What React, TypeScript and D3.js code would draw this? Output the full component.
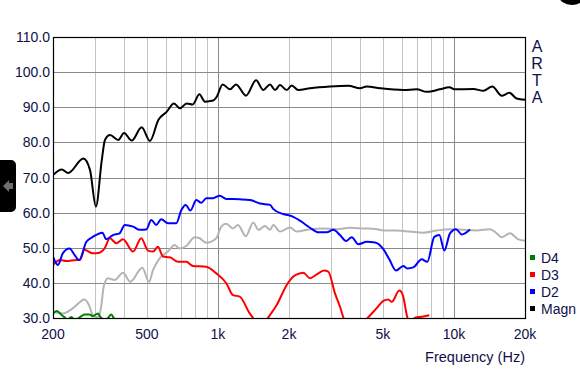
import React from "react";
import * as d3 from "d3";

const magnF = [200,218,232,269,287,304,322,332,349,378,400,431,475,515,559,606,651,690,737,782,834,881,955,988,1047,1125,1193,1315,1450,1557,1662,1745,1832,1956,2053,2190,2455,2984,3568,3998,4268,4860,6100,6952,7664,8726,9554,10100,12080,13320,14530,15940,17160,18440,20000];
const magnV = [70.7,72.3,71.3,75.4,72.1,61.7,75,80.7,82.1,80.7,82.7,80.5,84.3,80.4,86.4,88.7,91.1,89.7,91.1,90.8,93.7,91.6,91.9,93,96.5,95.1,96.5,93.3,97.7,94.9,96.5,94.9,96.3,94.9,96.2,94.9,95.4,95.9,96.1,95.4,95.9,95.4,94.9,95.1,94.4,95.1,95.7,95.1,95.2,94.7,95.9,93.3,94.1,92.5,92.1];

const d2F = [200,210,220,235,247,258,277,295,324,336,359,383,403,437,466,497,522,548,575,614,666,699,730,764,810,850,892,953,1017,1085,1236,1367,1507,1662,1717,1892,2053,2227,2455,2663,2888,3082,3290,3488,3688,3934,4268,4628,5019,5322,5682,6100,6344,6727,7300,7710,8256,8669,9103,9621,10200,10790,11700];
const d2V = [47.5,45.1,48.4,49.8,47.9,46.5,51.7,53.1,54.3,52.4,53.6,54.1,56.5,56.0,55.1,55.2,57.9,56.5,58.1,57.0,57.0,60.7,62.2,60.6,63.6,62.8,64.1,64.1,64.8,63.9,63.8,63.6,62.6,62.2,61,59.6,59,57.7,55.7,54.4,54.4,55.1,53.6,51.9,53,51,51.7,51.5,49.6,46.7,43.5,44.8,44.1,44.4,46.7,46,53.1,53.6,49.2,54.1,55.3,53.8,55.2];

const greyF = [200,220,243,272,284,295,310,320,328,342,365,396,425,478,510,531,566,614,656,684,734,797,837,892,984,1033,1085,1158,1216,1311,1412,1483,1582,1662,1717,1832,2019,2156,2455,2795,3186,3627,4128,4705,5019,5720,6512,7416,8450,9621,10950,12480,14210,15180,15940,17280,18730,20000];
const greyV = [31.8,31.3,32.8,35.3,33.7,30.9,30.2,33.2,38.9,41.3,40.8,42.9,40.3,44.3,40.3,43.7,47,48.9,50.8,49.8,50.5,53,52.7,51.4,52.7,56,56.8,55.5,56.5,53.3,57.2,55.1,56.2,55.1,56.5,54.6,55.8,54.6,55.3,55.5,55.3,55.7,55.5,55.3,54.9,54.9,54.6,54.3,54.9,55.3,55.1,54.9,55.3,54.1,53,54.1,52.4,52];

const d3F = [200,214,228,251,260,272,295,315,331,348,371,396,437,473,505,531,557,585,625,677,734,784,892,984,1085,1158,1236,1363,1408,1500,1634,1774,1956,2086,2227,2300,2455,2621,2814,2934,3132,3290,3398,3800,4336,4705,5019,5270,5449,5868,6066,6344,6550,6840,7416,7862];
const d3V = [45.1,46.5,46.2,46.5,46.5,49.4,48.4,48.6,49.8,52.7,51.3,52.4,48.9,52.7,49.2,48.9,50.3,47.5,47.3,46.0,46,44.8,44.6,42.7,39.9,36.5,36.1,31.3,30,27,30.2,33.7,39.4,41.8,42.7,42.9,41.3,42.4,43.5,43.2,37,33.2,30.2,26,30.2,32.8,34.9,35.3,34.6,37.8,36.6,30.2,28.5,30.1,30.4,30.8];

const d4F = [200,208,217,224,230,239,247,264,272,286,295,310,317,330,342,353,362,370];
const d4V = [31.3,32,30.9,30.2,29.5,30.3,29.5,30.5,31,31,30.5,31.3,30.4,29.5,30,31,30,29];

const yTicks = [30,40,50,60,70,80,90,100,110];
const xTickVals = [200,500,1000,2000,5000,10000,20000];
const xTickLabels = ["200","500","1k","2k","5k","10k","20k"];
const legendNames = ["D4","D3","D2","Magn"];
const legendColors = ["#008000","#ff0000","#0000ff","#000000"];

export default function App() {
  const L = 53, R = 525, T = 37, B = 318;
  const x = d3.scaleLog().domain([200, 20000]).range([L, R]);
  const y = d3.scaleLinear().domain([30, 110]).range([B, T]);
  const line = (F: number[], V: number[]) =>
    d3.line<number>().x((_, i) => x(F[i])).y((v) => y(v)).curve(d3.curveMonotoneX)(V) || "";

  const minor: number[] = [];
  for (let dec = 100; dec <= 10000; dec *= 10) {
    for (let k = 1; k <= 9; k++) {
      const f = dec * k;
      if (f > 200 && f < 20000 && f !== 1000 && f !== 10000) minor.push(f);
    }
  }
  const txt = "#10104a";
  const font = "'Liberation Sans', Arial, sans-serif";

  return (
    <svg width={580} height={375} style={{ position: "absolute", left: 0, top: 0, background: "#fff" }} fontFamily={font}>
      <rect x={0} y={0} width={580} height={375} fill="#fff" />
      <defs>
        <clipPath id="plot">
          <rect x={L} y={T} width={R - L} height={B - T} />
        </clipPath>
      </defs>
      {minor.map((f) => (
        <line key={f} x1={Math.round(x(f)) + 0.5} x2={Math.round(x(f)) + 0.5} y1={T} y2={B} stroke="#c4c4c4" strokeWidth={1} />
      ))}
      {[1000, 10000].map((f) => (
        <line key={f} x1={Math.round(x(f)) + 0.5} x2={Math.round(x(f)) + 0.5} y1={T} y2={B} stroke="#8a8a8a" strokeWidth={1} />
      ))}
      {yTicks.map((t) => (
        <line key={t} x1={L} x2={R} y1={Math.round(y(t)) + 0.5} y2={Math.round(y(t)) + 0.5} stroke="#8a8a8a" strokeWidth={1} />
      ))}
      <g clipPath="url(#plot)" fill="none" strokeWidth={2} strokeLinejoin="round">
        <path d={line(greyF, greyV)} stroke="#b4b4b4" />
        <path d={line(d4F, d4V)} stroke="#008000" />
        <path d={line(d3F, d3V)} stroke="#ff0000" />
        <path d={line(d2F, d2V)} stroke="#0000ff" />
        <path d={line(magnF, magnV)} stroke="#000000" />
      </g>
      <rect x={L + 0.5} y={T + 0.5} width={R - L} height={B - T} fill="none" stroke="#000" strokeWidth={1.2} />
      {yTicks.map((t) => (
        <text key={t} x={50} y={y(t) + 5} textAnchor="end" fontSize={14} fill={txt}>
          {d3.format(".1f")(t)}
        </text>
      ))}
      {xTickVals.map((f, i) => (
        <text key={f} x={x(f)} y={339} textAnchor="middle" fontSize={14} fill={txt}>
          {xTickLabels[i]}
        </text>
      ))}
      <text x={525} y={362} textAnchor="end" fontSize={14.5} fill={txt}>Frequency (Hz)</text>
      {["A", "R", "T", "A"].map((c, i) => (
        <text key={i} x={537} y={52 + i * 17} textAnchor="middle" fontSize={16} fill={txt}>{c}</text>
      ))}
      {legendNames.map((n, i) => (
        <g key={n}>
          <rect x={530} y={255 + i * 17} width={5} height={5} fill={legendColors[i]} />
          <text x={541} y={263 + i * 17} fontSize={14} fill={txt}>{n}</text>
        </g>
      ))}
      <rect x={-6} y={160} width={22} height={52} rx={5} fill="#000" />
      <path d="M3,186 L9,180 L9,183 L13,183 L13,189 L9,189 L9,192 Z" fill="#6e6e6e" />
      <ellipse cx={572} cy={-4} rx={13} ry={9} fill="#000" />
    </svg>
  );
}
